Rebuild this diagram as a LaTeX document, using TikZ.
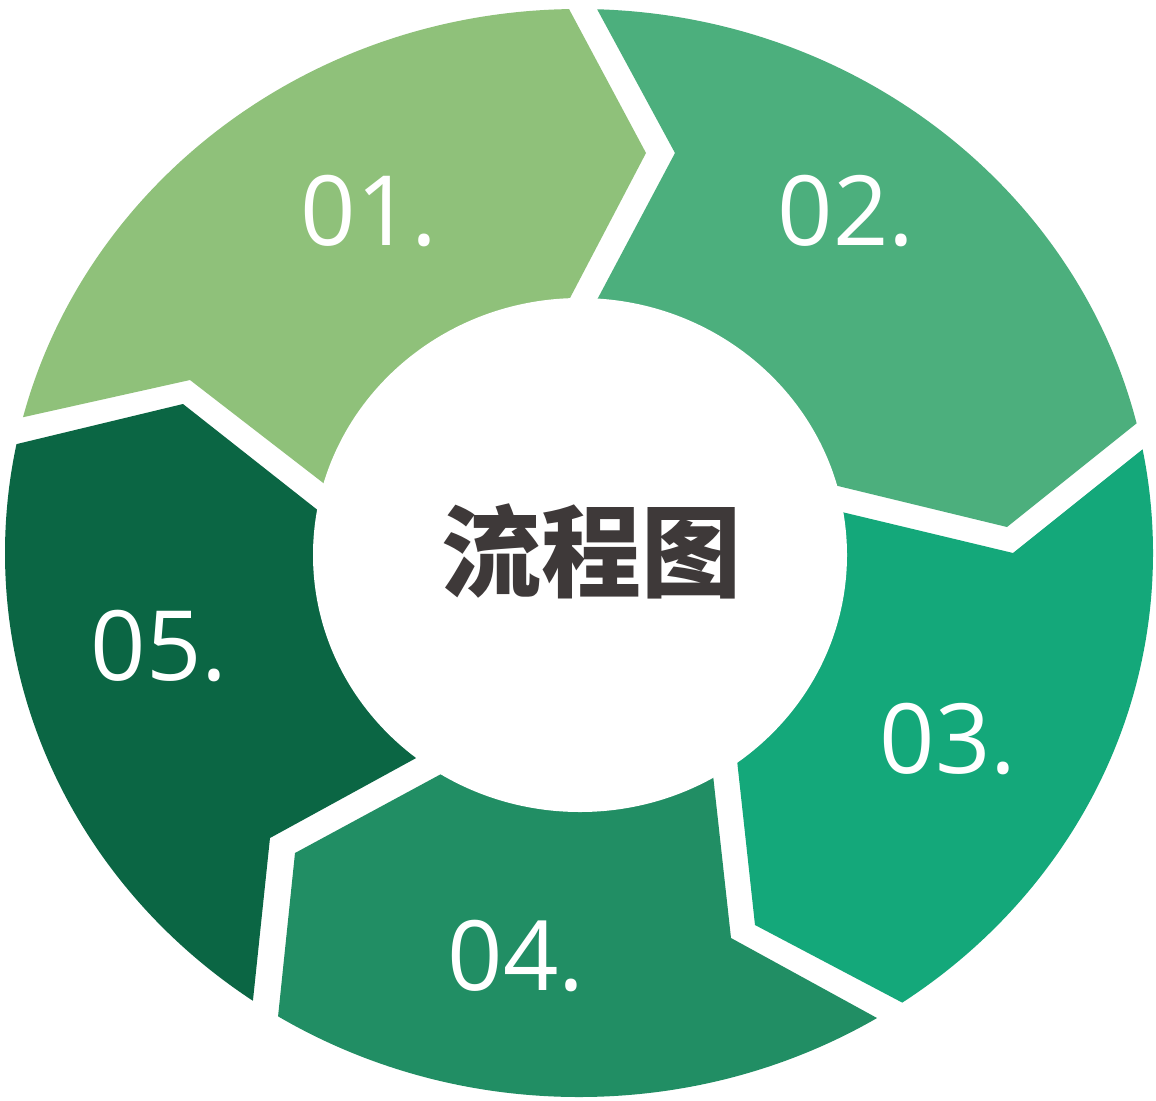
\documentclass[tikz,border=0pt]{standalone}
\usepackage{fontspec}
\newfontfamily\numfont{Open Sans}
\newfontfamily\cjkfont{Noto Sans CJK SC}
\usetikzlibrary{calc}
\definecolor{cA}{RGB}{143,193,122}
\definecolor{cB}{RGB}{76,175,125}
\definecolor{cC}{RGB}{20,168,122}
\definecolor{cD}{RGB}{33,142,100}
\definecolor{cE}{RGB}{11,102,68}
\definecolor{titlegray}{RGB}{62,57,57}
% #1 colour, #2 #3 #4 = outer, tip, inner of first edge; #5 #6 #7 = outer, tip, inner of second edge
\newcommand\ringseg[7]{%
  \coordinate (oa) at ($#2!-0.25!#3$);
  \coordinate (ob) at ($#5!-0.25!#6$);
  \coordinate (ia) at ($#4!-0.15!#3$);
  \coordinate (ib) at ($#7!-0.15!#6$);
  \coordinate (fa) at ($(C)!3!(oa)$);
  \coordinate (fb) at ($(C)!3!(ob)$);
  \fill[#1] (ia) -- #3 -- #2 -- (oa) -- (fa) -- (fb) -- (ob) -- #5 -- #6 -- #7 -- (ib) -- (C) -- cycle;
}
\begin{document}
\begin{tikzpicture}[x=1pt,y=-1pt,
  numlabel/.style={text=white,font=\numfont\fontsize{97}{97}\selectfont,inner sep=0pt,anchor=base},
  titlelabel/.style={text=titlegray,font=\cjkfont\bfseries\fontsize{100}{100}\selectfont,inner sep=0pt}]
\useasboundingbox (0,0) rectangle (1156,1100);
\fill[white] (0,0) rectangle (1156,1100);
\coordinate (C) at (580,555);
\begin{scope}
  \clip (579,553) ellipse [x radius=574pt, y radius=544pt];
  % 01
  \ringseg{cA}{(569,9)}{(646,153)}{(570,298)}{(24,417)}{(190,380)}{(322,482)}
  % 02
  \ringseg{cB}{(597,9)}{(675,153)}{(598,298)}{(1137,423)}{(1007,527)}{(838,486)}
  % 03
  \ringseg{cC}{(1143,449)}{(1013,553)}{(846,513)}{(903,1003)}{(755,925)}{(737,760)}
  % 04
  \ringseg{cD}{(877,1018)}{(731,938)}{(713,775)}{(278,1017)}{(295,853)}{(443,773)}
  % 05
  \ringseg{cE}{(253,1000)}{(270,838)}{(418,757)}{(17,444)}{(183,404)}{(315,508)}
\end{scope}
\fill[white] (580,555) ellipse [x radius=267pt, y radius=257pt];
\node[titlelabel] (title) at (591,551) {流程图};
\node[numlabel] (n1) at (369,245) {01.};
\node[numlabel] (n2) at (846,245) {02.};
\node[numlabel] (n3) at (948,773) {03.};
\node[numlabel] (n4) at (516,990) {04.};
\node[numlabel] (n5) at (159,680) {05.};
\end{tikzpicture}
\end{document}
